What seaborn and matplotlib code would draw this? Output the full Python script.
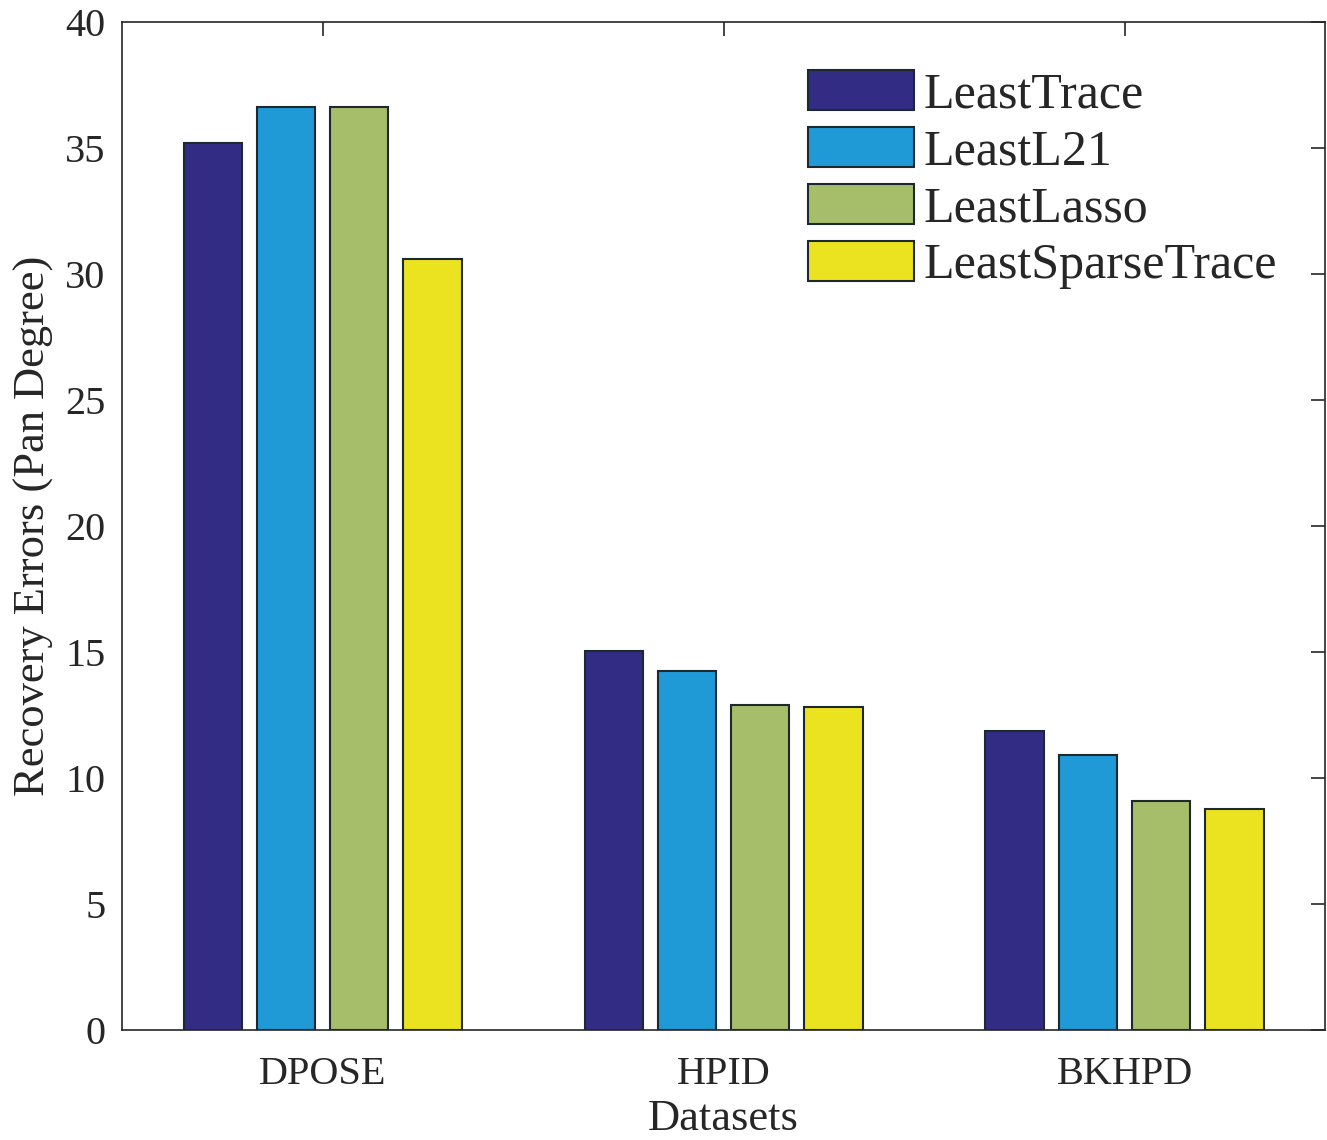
import pandas as pd
import seaborn as sns
import numpy as np
import matplotlib.pyplot as plt

# data
datasets = ["DPOSE", "HPID", "BKHPD"]
methods = ["LeastTrace", "LeastL21", "LeastLasso", "LeastSparseTrace"]
least_trace = [35.2, 15.05, 11.85]
least_l21 = [36.6, 14.25, 10.9]
least_lasso = [36.6, 12.9, 9.1]
least_sparse_trace = [30.6, 12.8, 8.75]
colors = ["#332c85", "#1f9ad6", "#a6bd69", "#ece320"]

vals = [least_trace, least_l21, least_lasso, least_sparse_trace]
rows = []
for m, v in zip(methods, vals):
    for d, e in zip(datasets, v):
        rows.append({"Datasets": d, "method": m, "err": e})
df = pd.DataFrame(rows)

sns.set_style("white")
plt.rcParams['font.family'] = ['Liberation Serif', 'DejaVu Serif']

fig = plt.figure(figsize=(13.27, 11.4), dpi=100)
ax = fig.add_axes([0.092, 0.0965, 0.9065, 0.8845])

sns.barplot(data=df, x="Datasets", y="err", hue="method", palette=colors,
            width=0.73, gap=0.2, edgecolor="#1c2a30", linewidth=1.5, ax=ax,
            saturation=1)

ax.set_ylim(0, 40)
ax.set_xlim(-0.5, 2.5)
ax.set_yticks(np.arange(0, 41, 5))
ax.set_xlabel("Datasets", fontsize=32, color="#262626", labelpad=4)
ax.set_ylabel("Recovery Errors (Pan Degree)", fontsize=32, color="#262626", labelpad=8)
ax.tick_params(direction="in", length=10, width=1.2, labelsize=29,
               colors="#262626", top=True, right=True)
ax.tick_params(axis="x", pad=19)
ax.tick_params(axis="y", pad=12)
for s in ax.spines.values():
    s.set_color("#262626")
    s.set_linewidth(1.2)

ax.legend(loc="upper left", bbox_to_anchor=(0.57, 0.952), frameon=False,
          fontsize=36, handlelength=2.12, handleheight=0.84, handletextpad=0.2,
          labelspacing=0.18, borderpad=0, borderaxespad=0)

plt.savefig("out.png", dpi=100)
